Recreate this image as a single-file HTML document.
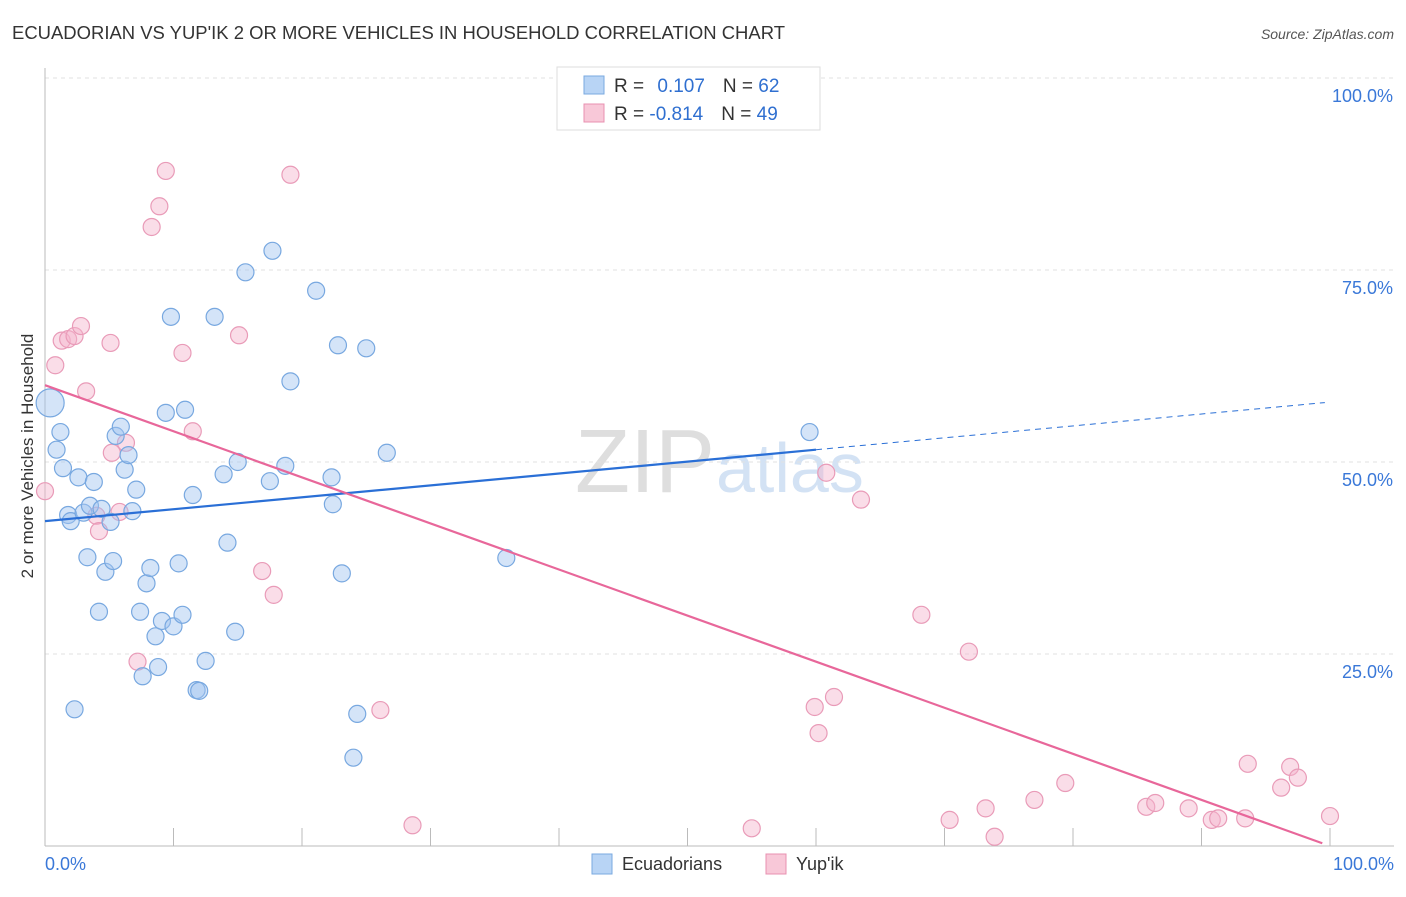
<!DOCTYPE html>
<html><head><meta charset="utf-8"><style>
body{margin:0;background:#fff;font-family:"Liberation Sans",sans-serif;}
svg text{font-family:"Liberation Sans",sans-serif;}
</style></head><body>
<svg id="chart" width="1406" height="892">
<text x="12" y="39" font-size="18" fill="#333" textLength="773" lengthAdjust="spacingAndGlyphs">ECUADORIAN VS YUP'IK 2 OR MORE VEHICLES IN HOUSEHOLD CORRELATION CHART</text>
<text x="1394" y="39" font-size="14" fill="#555" font-style="italic" text-anchor="end">Source: ZipAtlas.com</text>
<text x="715" y="492" font-size="90" fill="#dedede" text-anchor="end" font-family="Liberation Serif">ZIP</text>
<text x="716" y="492" font-size="70" fill="#d3e2f4">atlas</text>
<g id="grid"></g><g id="axes"></g><g id="marks"></g>
<text transform="translate(33,456) rotate(-90)" font-size="17" fill="#333" text-anchor="middle">2 or more Vehicles in Household</text>
<g>
<rect x="557" y="67" width="263" height="63" fill="#fff" stroke="#ddd"/>
<rect x="584" y="76" width="20" height="18" fill="#b8d4f5" stroke="#7aaae0"/>
<rect x="584" y="104" width="20" height="18" fill="#f8c8d8" stroke="#e890b0"/>
<text x="614" y="92" font-size="19" fill="#333">R = <tspan fill="#2f6fd0" dx="8">0.107</tspan><tspan dx="18">N = </tspan><tspan fill="#2f6fd0">62</tspan></text>
<text x="614" y="120" font-size="19" fill="#333">R = <tspan fill="#2f6fd0">-0.814</tspan><tspan dx="18">N = </tspan><tspan fill="#2f6fd0">49</tspan></text>
</g>
<g>
<rect x="592" y="854" width="20" height="20" fill="#b8d4f5" stroke="#7aaae0"/>
<text x="622" y="870" font-size="18" fill="#333">Ecuadorians</text>
<rect x="766" y="854" width="20" height="20" fill="#f8c8d8" stroke="#e890b0"/>
<text x="796" y="870" font-size="18" fill="#333">Yup'ik</text>
</g>
</svg>
<script>
const yTicks=[25,50,75,100];
const yTickLabels=["25.0%","50.0%","75.0%","100.0%"];
const blueX=[0.4,0.9,1.2,1.4,1.8,2.0,2.3,2.6,3.0,3.3,3.5,3.8,4.2,4.4,4.7,5.1,5.3,5.5,5.9,6.2,6.5,6.8,7.1,7.4,7.6,7.9,8.2,8.6,8.8,9.1,9.4,9.8,10.0,10.4,10.7,10.9,11.5,11.8,12.0,12.5,13.2,13.9,14.2,14.8,15.0,15.6,17.5,17.7,18.7,19.1,21.1,22.3,22.4,22.8,23.1,24.3,24.0,25.0,26.6,35.9,59.5];
const blueY=[57.7,51.6,53.9,49.2,43.1,42.3,17.8,48.0,43.4,37.6,44.3,47.4,30.5,43.9,35.7,42.2,37.1,53.4,54.6,49.0,50.9,43.6,46.4,30.5,22.1,34.2,36.2,27.3,23.3,29.3,56.4,68.9,28.6,36.8,30.1,56.8,45.7,20.3,20.2,24.1,68.9,48.4,39.5,27.9,50.0,74.7,47.5,77.5,49.5,60.5,72.3,48.0,44.5,65.2,35.5,17.2,11.5,64.8,51.2,37.5,53.9];
const pinkX=[0,0.8,1.3,1.8,2.3,2.8,3.2,4.0,4.2,5.1,5.2,5.8,6.3,7.2,8.3,8.9,9.4,10.7,11.5,15.1,16.9,17.8,19.1,26.1,28.6,55.0,59.9,60.2,60.8,61.4,63.5,68.2,70.4,71.9,73.2,73.9,77.0,79.4,85.7,86.4,89.0,90.8,91.3,93.4,93.6,96.2,96.9,97.5,100];
const pinkY=[46.2,62.6,65.8,66.0,66.4,67.7,59.2,43.0,41.0,65.5,51.2,43.5,52.5,24.0,80.6,83.3,87.9,64.2,54.0,66.5,35.8,32.7,87.4,17.7,2.7,2.3,18.1,14.7,48.6,19.4,45.1,30.1,3.4,25.3,4.9,1.2,6.0,8.2,5.1,5.6,4.9,3.4,3.6,3.6,10.7,7.6,10.3,8.9,3.9];
const blueTrend=[42.3,57.8];
const pinkTrend=[60.0,0.0];
const NS="http://www.w3.org/2000/svg";
const X=v=>45+v*12.85, Y=v=>846-v*7.68;
function mk(t,a,p){const e=document.createElementNS(NS,t);for(const k in a)e.setAttribute(k,a[k]);p.appendChild(e);return e;}
const grid=document.getElementById('grid'),axes=document.getElementById('axes'),marks=document.getElementById('marks');
yTicks.forEach((t,i)=>{
 const l=mk('line',{x1:45,x2:1394,y1:Y(t),y2:Y(t),stroke:'#e2e2e2','stroke-dasharray':'4,4'},grid);
 
 
 const tx=mk('text',{x:1393,y:Y(t)+24,'font-size':18,fill:'#3a78d8','text-anchor':'end'},axes);
 tx.textContent=yTickLabels[i];
 
 
});
mk('line',{x1:45,x2:45,y1:68,y2:846,stroke:'#bbb'},axes);
mk('line',{x1:45,x2:1394,y1:846,y2:846,stroke:'#bbb'},axes);
for(let i=0;i<=10;i++){mk('line',{x1:X(i*10),x2:X(i*10),y1:828,y2:846,stroke:'#bbb'},axes);}
const x0=mk('text',{x:45,y:870,'font-size':18,fill:'#3a78d8'},axes);x0.textContent='0.0%';


const x1=mk('text',{x:1394,y:870,'font-size':18,fill:'#3a78d8','text-anchor':'end'},axes);x1.textContent='100.0%';


pinkX.forEach((v,i)=>{const c=mk('circle',{cx:X(v),cy:Y(pinkY[i]),r:8.5,fill:'rgba(245,180,204,0.45)',stroke:'#e99bb8','stroke-width':1.2},marks);
 
 });
blueX.forEach((v,i)=>{const c=mk('circle',{cx:X(v),cy:Y(blueY[i]),r:i==0?14:8.5,fill:'rgba(160,196,240,0.45)',stroke:'#78a8e0','stroke-width':1.2},marks);
 
 });
const by=x=>blueTrend[0]+(blueTrend[1]-blueTrend[0])*x/100;
const b1=mk('line',{x1:X(0),y1:Y(by(0)),x2:X(60),y2:Y(by(60)),stroke:'#2a6fd6','stroke-width':2.2},marks);


const b2=mk('line',{x1:X(60),y1:Y(by(60)),x2:X(99.6),y2:Y(by(99.6)),stroke:'#2a6fd6','stroke-width':1,'stroke-dasharray':'6,5'},marks);


const py=x=>pinkTrend[0]+(pinkTrend[1]-pinkTrend[0])*x/100;
const p1=mk('line',{x1:X(0),y1:Y(py(0)),x2:X(99.4),y2:Y(py(99.4)),stroke:'#e8679a','stroke-width':2.2},marks);


</script>
</body></html>
